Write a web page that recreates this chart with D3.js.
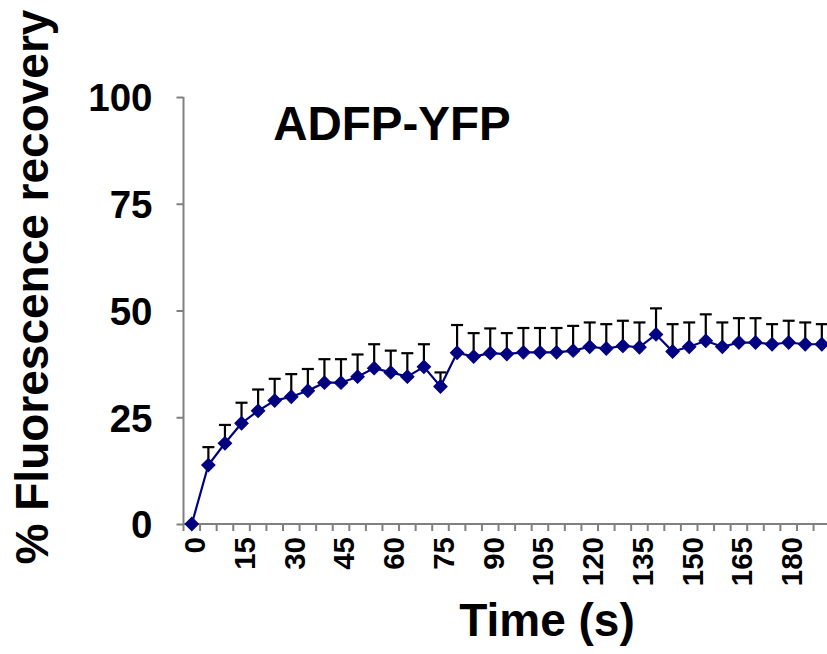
<!DOCTYPE html>
<html>
<head>
<meta charset="utf-8">
<script src="https://cdn.jsdelivr.net/npm/d3@7"></script>
<style>
  html, body { margin: 0; padding: 0; background: #fff; }
  svg { display: block; }
  text { font-family: "Liberation Sans", Arial, sans-serif; font-weight: bold; fill: #000; }
</style>
</head>
<body>
<svg id="chart" width="827" height="654"></svg>
<script>
// ---- Data ----
const times = [0,5,10,15,20,25,30,35,40,45,50,55,60,65,70,75,80,85,90,95,100,105,110,115,120,125,130,135,140,145,150,155,160,165,170,175,180,185,190];
const recovery = [0,13.8,18.9,23.6,26.5,28.9,29.8,31.2,33.1,33.1,34.5,36.5,35.5,34.5,36.8,32.2,40.1,39.2,40.0,39.8,40.2,40.2,40.2,40.6,41.5,41.1,41.7,41.4,44.4,40.4,41.5,42.9,41.5,42.5,42.5,42.1,42.5,42.1,42.1];
const errorUp = [0,4.2,4.3,4.8,5.0,5.1,5.3,5.1,5.5,5.5,5.2,5.6,5.1,5.5,5.3,3.3,6.5,5.5,5.8,4.9,5.7,5.7,5.7,5.8,5.7,5.7,5.9,5.8,6.1,6.4,5.7,6.2,5.7,5.7,5.7,4.7,5.1,5.1,4.7];
const xTickLabels = ["0","15","30","45","60","75","90","105","120","135","150","165","180"];
const yTickValues = [0,25,50,75,100];
const titleText = "ADFP-YFP";
const yTitle = "% Fluorescence recovery";
const xTitle = "Time (s)";

// ---- Layout ----
const svg = d3.select("#chart");
const x0 = 183.5, catW = 16.58;
const x = d3.scaleBand().domain(times.map(String)).range([x0, x0 + catW * times.length]).padding(0);
const y = d3.scaleLinear().domain([0, 100]).range([524, 97]);
const cx = t => x(String(t)) + x.bandwidth() / 2;
const axisColor = "#808080";
const navy = "#000080";

// Y axis
const yAxis = svg.append("g").attr("transform", `translate(${x0},0)`)
  .call(d3.axisLeft(y).tickValues(yTickValues).tickSize(7).tickFormat(d3.format("d")));
yAxis.select(".domain").attr("stroke", axisColor).attr("stroke-width", 2).attr("d", `M0,${y(100)}V${y(0)}`);
yAxis.selectAll(".tick line").attr("stroke", axisColor).attr("stroke-width", 2);
yAxis.selectAll(".tick text").attr("x", -31).attr("dy", "0.36em")
  .style("font-size", "38.5px").style("font-family", "'Liberation Sans', Arial, sans-serif").style("font-weight", "bold").attr("fill", "#000");

// X axis: line + category boundary ticks
const xAxisG = svg.append("g");
xAxisG.append("line").attr("x1", x0).attr("x2", 827).attr("y1", y(0)).attr("y2", y(0))
  .attr("stroke", axisColor).attr("stroke-width", 2);
xAxisG.selectAll("line.tk").data(times).join("line").attr("class", "tk")
  .attr("x1", t => x(String(t))).attr("x2", t => x(String(t)))
  .attr("y1", y(0)).attr("y2", y(0) + 7)
  .attr("stroke", axisColor).attr("stroke-width", 2);
xAxisG.selectAll("text.xl").data(xTickLabels).join("text").attr("class", "xl")
  .attr("transform", d => `translate(${cx(+d) + 3},${y(0) + 13}) rotate(-90)`)
  .attr("text-anchor", "end").attr("dy", "0.35em")
  .style("font-size", "29.5px")
  .text(d => d);

// Error bars (upper only)
const eb = svg.append("g").attr("stroke", "#000").attr("stroke-width", 2.2).attr("fill", "none");
times.forEach((t, i) => {
  if (errorUp[i] <= 0) return;
  const px = cx(t), top = y(recovery[i] + errorUp[i]);
  eb.append("line").attr("x1", px).attr("x2", px).attr("y1", y(recovery[i])).attr("y2", top);
  eb.append("line").attr("x1", px - 6).attr("x2", px + 6).attr("y1", top).attr("y2", top);
});

// Line
const line = d3.line().x((d, i) => cx(times[i])).y(d => y(d));
svg.append("path").datum(recovery).attr("d", line)
  .attr("fill", "none").attr("stroke", navy).attr("stroke-width", 2.2);

// Diamond markers
svg.append("g").selectAll("path").data(recovery).join("path")
  .attr("transform", (d, i) => `translate(${cx(times[i])},${y(d)}) rotate(45)`)
  .attr("d", d3.symbol().type(d3.symbolSquare).size(90)())
  .attr("fill", navy).attr("stroke", navy).attr("stroke-width", 1);

// Title
svg.append("text").attr("x", 392).attr("y", 140).attr("text-anchor", "middle")
  .style("font-size", "47.5px").text(titleText);

// Axis titles
svg.append("text").attr("transform", "translate(48,287) rotate(-90)").attr("text-anchor", "middle")
  .style("font-size", "46px").text(yTitle);
svg.append("text").attr("x", 547).attr("y", 636).attr("text-anchor", "middle")
  .style("font-size", "46px").text(xTitle);
</script>
</body>
</html>
